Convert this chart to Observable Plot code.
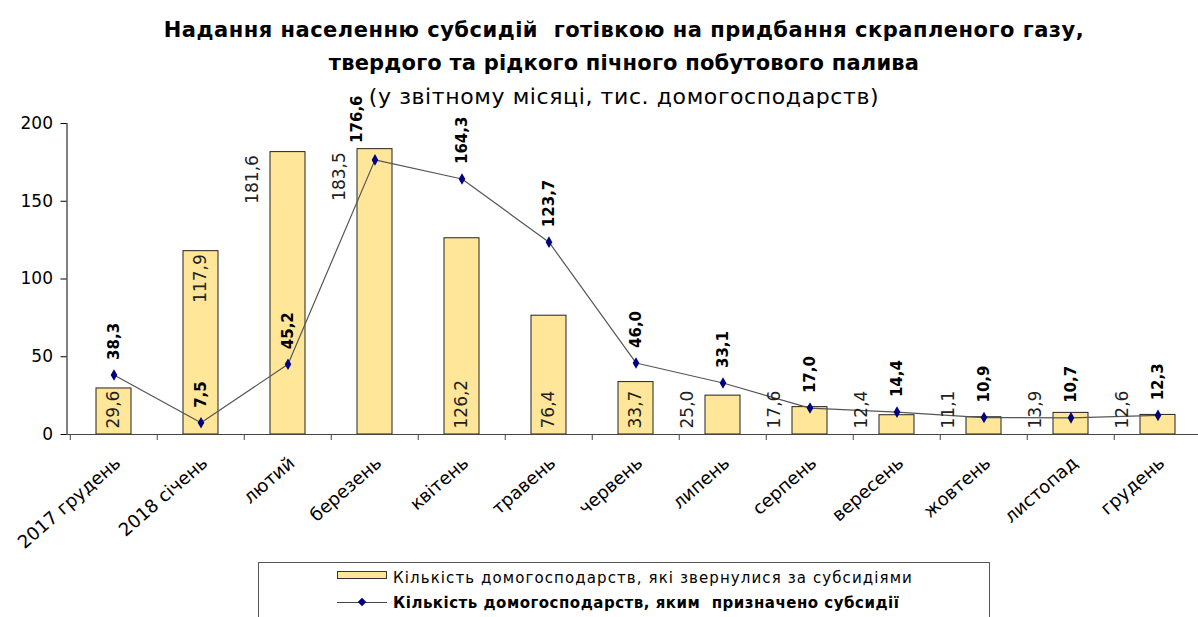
<!DOCTYPE html>
<html><head><meta charset="utf-8">
<script src="https://cdn.jsdelivr.net/npm/d3@7"></script>
<script src="https://cdn.jsdelivr.net/npm/@observablehq/plot@0.6"></script>
<style>
body{margin:0;background:#fff;}
#wrap{position:relative;width:1198px;height:617px;overflow:hidden;font-family:"DejaVu Sans",sans-serif;background:#fff;}
.t{position:absolute;left:624px;transform:translateX(-50%);white-space:pre;color:#000;line-height:24px;}
#legend{position:absolute;left:258px;top:562px;width:732px;height:80px;border:1px solid #555;background:#fff;box-sizing:border-box;}
#legend .sw{position:absolute;left:78px;top:8px;width:50px;height:8px;background:#FFE699;border:1px solid #333;box-sizing:border-box;}
#legend .ln{position:absolute;left:78px;top:39px;width:50px;height:1px;background:#444;}
#legend .dm{position:absolute;left:100px;top:36px;width:6px;height:6px;background:#000080;transform:rotate(45deg);}
#legend .l1{position:absolute;left:134px;top:6px;font-size:15px;line-height:18px;letter-spacing:1.1px;white-space:pre;color:#000;}
#legend .l2{position:absolute;left:134px;top:31px;font-size:15px;line-height:18px;letter-spacing:0.5px;font-weight:bold;white-space:pre;color:#000;}
</style></head><body>
<div id="wrap">
  <div id="chart"></div>
  <div class="t" style="top:18px;font-weight:bold;font-size:21px;letter-spacing:0.5px">Надання населенню субсидій  готівкою на придбання скрапленого газу,</div>
  <div class="t" style="top:51px;font-weight:bold;font-size:21px;letter-spacing:0.2px">твердого та рідкого пічного побутового палива</div>
  <div class="t" style="top:85px;font-size:22px;letter-spacing:0.6px">(у звітному місяці, тис. домогосподарств)</div>
  <div id="legend">
    <div class="sw"></div><div class="l1">Кількість домогосподарств, які звернулися за субсидіями</div>
    <div class="ln"></div><div class="dm"></div><div class="l2">Кількість домогосподарств, яким  призначено субсидії</div>
  </div>
</div>
<script>
const months = ["2017 грудень","2018 січень","лютий","березень","квітень","травень","червень","липень","серпень","вересень","жовтень","листопад","грудень"];
const applied = [29.6,117.9,181.6,183.5,126.2,76.4,33.7,25.0,17.6,12.4,11.1,13.9,12.6];
const granted = [38.3,7.5,45.2,176.6,164.3,123.7,46.0,33.1,17.0,14.4,10.9,10.7,12.3];
const yTicks = [0,50,100,150,200];

// label placement style (as in the original chart)
const barLabelPlace = ["inBottom","inTop","leftTop","leftTop","inBottom","inBottom","inBottom","leftBottom","leftBottom","leftBottom","leftBottom","leftBottom","leftBottom"];

const rows = months.map((m,i)=>({month:m, applied:applied[i], granted:granted[i], place:barLabelPlace[i], idx:i}));
const fmt = v => v.toFixed(1).replace(".", ",");

const W = 1198, H = 617, mL = 66.5, mR = -6, mT = 123, mB = 183;
const step = (W - mL - mR) / months.length;

const byPlace = p => rows.filter(r => r.place === p);

const plot = Plot.plot({
  width: W, height: H,
  marginLeft: mL, marginRight: mR, marginTop: mT, marginBottom: mB,
  style: {fontFamily: "DejaVu Sans, sans-serif", fontSize: "17px", color: "#000", background: "#fff", overflow: "visible"},
  x: {type: "band", domain: months, paddingInner: 0.6, paddingOuter: 0.3, axis: null},
  y: {domain: [0, 200], ticks: yTicks, tickSize: 6, tickPadding: 8, label: null, line: true},
  marks: [
    Plot.barY(rows, {x: "month", y: "applied", fill: "#FFE699", stroke: "#222", strokeWidth: 1}),
    Plot.ruleY([0], {stroke: "#444"}),
    Plot.axisX({tickSize: 6, tickFormat: () => "", dx: -step/2, stroke: "#444"}),
    Plot.axisX({tickSize: 0, tickPadding: 26, tickRotate: -41, fontSize: 18, dx: 4, label: null}),
    Plot.line(rows, {x: "month", y: "granted", stroke: "#555", strokeWidth: 1.2}),
    Plot.dot(rows, {x: "month", y: "granted", symbol: "diamond", r: 3.5, fill: "#000080"}),
    // bar labels
    Plot.text(byPlace("inBottom"), {x: "month", y: 0, text: d => fmt(d.applied), rotate: -90, textAnchor: "start", dy: -6, fontSize: 17, fill: "#222"}),
    Plot.text(byPlace("leftBottom"), {x: "month", y: 0, text: d => fmt(d.applied), rotate: -90, textAnchor: "start", dy: -6, dx: -35, fontSize: 17, fill: "#222"}),
    Plot.text(byPlace("inTop"), {x: "month", y: "applied", text: d => fmt(d.applied), rotate: -90, textAnchor: "end", dy: 3, fontSize: 17, fill: "#222"}),
    Plot.text(byPlace("leftTop"), {x: "month", y: "applied", text: d => fmt(d.applied), rotate: -90, textAnchor: "end", dy: 3, dx: -35, fontSize: 17, fill: "#222"}),
    // line labels
    Plot.text(rows.filter(r => r.idx !== 3), {x: "month", y: "granted", text: d => fmt(d.granted), rotate: -90, textAnchor: "start", dy: -15, fontSize: 15, fontWeight: "bold", fill: "#000"}),
    Plot.text(rows.filter(r => r.idx === 3), {x: "month", y: "granted", text: d => fmt(d.granted), rotate: -90, textAnchor: "start", dy: -17, dx: -18, fontSize: 15, fontWeight: "bold", fill: "#000"})
  ]
});
document.getElementById("chart").appendChild(plot);
</script>
</body></html>
